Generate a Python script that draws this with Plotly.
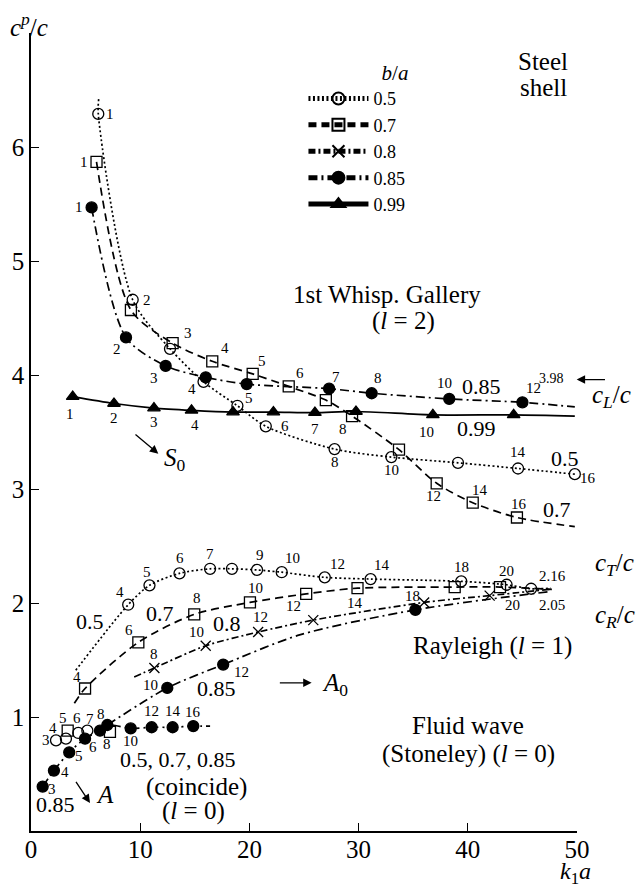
import plotly.graph_objects as go

FONT = "Liberation Serif, Times New Roman, serif"

# ---------------- data ----------------
# l = 2 : 1st whispering gallery
wg05_n = [1, 2, 3, 4, 5, 6, 8, 10, 12, 14, 16]
wg05_x = [6.16, 9.31, 12.73, 15.8, 18.9, 21.5, 27.8, 33.0, 39.1, 44.6, 49.8]
wg05_y = [6.29, 4.66, 4.23, 3.94, 3.73, 3.55, 3.35, 3.28, 3.23, 3.18, 3.13]
wg05_start = (6.2, 6.42)

wg07_n = [1, 2, 3, 4, 5, 6, 7, 8, 10, 12, 14, 16]
wg07_x = [6.0, 9.15, 12.97, 16.6, 20.3, 23.6, 27.0, 29.4, 33.7, 37.15, 40.45, 44.5]
wg07_y = [5.87, 4.57, 4.28, 4.12, 4.01, 3.90, 3.78, 3.64, 3.345, 3.05, 2.88, 2.75]
wg07_end = (49.8, 2.67)

wg085_n = [1, 2, 3, 4, 5, 7, 8, 10, 12]
wg085_x = [5.55, 8.7, 12.33, 16.0, 19.75, 27.3, 31.2, 38.3, 45.0]
wg085_y = [5.47, 4.33, 4.08, 3.98, 3.92, 3.88, 3.84, 3.79, 3.76]
wg085_end = (49.8, 3.72)

wg099_n = [1, 2, 3, 4, 5, 6, 7, 8, 10, 12]
wg099_x = [3.82, 7.6, 11.26, 14.7, 18.5, 22.2, 26.0, 29.76, 36.8, 44.2]
wg099_y = [3.81, 3.75, 3.71, 3.69, 3.675, 3.675, 3.67, 3.68, 3.65, 3.65]
wg099_end = (49.8, 3.64)

# l = 1 : Rayleigh
ry05_n = [4, 5, 6, 7, 8, 9, 10, 12, 14, 18, 20, 22]
ry05_x = [8.9, 10.85, 13.6, 16.4, 18.4, 20.7, 22.96, 26.9, 31.1, 39.4, 43.55, 45.8]
ry05_y = [1.985, 2.155, 2.26, 2.30, 2.30, 2.29, 2.27, 2.225, 2.21, 2.19, 2.16, 2.125]
ry05_start = (4.1, 1.41)
ry05_end = (47.6, 2.13)

ry07_n = [4, 6, 8, 10, 12, 14, 18, 20]
ry07_x = [4.95, 9.83, 14.95, 20.05, 25.2, 29.9, 38.8, 42.95]
ry07_y = [1.25, 1.655, 1.9, 2.005, 2.08, 2.13, 2.14, 2.14]
ry07_start = (3.97, 1.12)
ry07_end = (47.7, 2.12)

ry08_n = [8, 10, 12, 14, 18, 20]
ry08_x = [11.3, 16.0, 20.8, 25.85, 36.0, 42.0]
ry08_y = [1.43, 1.625, 1.745, 1.85, 2.005, 2.065]
ry08_start = (9.45, 1.35)
ry08_end = (47.5, 2.12)

ry085_n = [10, 12, 18]
ry085_x = [12.48, 17.6, 35.2]
ry085_y = [1.255, 1.46, 1.94]
ry085_start = (6.99, 0.93)
ry085_via = [(24.6, 1.72)]
ry085_end = (47.5, 2.10)

# l = 0 : fluid (Stoneley) wave
fl085_n = [3, 4, 5, 6, 7, 8, 10, 12, 14, 16]
fl085_x = [1.07, 2.1, 3.5, 4.95, 6.32, 6.99, 9.13, 11.05, 12.97, 14.86]
fl085_y = [0.39, 0.53, 0.69, 0.81, 0.88, 0.93, 0.90, 0.91, 0.91, 0.92]
fl085_end = (16.4, 0.92)

fl05_n = [3, 4, 6, 7]
fl05_x = [2.29, 3.2, 4.33, 5.16]
fl05_y = [0.795, 0.81, 0.86, 0.88]

fl07_n = [5, 8]
fl07_x = [3.36, 7.23]
fl07_y = [0.88, 0.87]

ratio_names = ["0.5", "0.7", "0.8", "0.85", "0.99"]

# ---------------- styles ----------------
DOT = "2px,2.5px"
DASH = "8px,5px"
DASHDOT8 = "7px,3px,2px,3px"
DASHDOT85 = "9px,4px,2px,4px"
STY = {
    "0.5": dict(symbol="circle-open", dash=DOT, size=11),
    "0.7": dict(symbol="square-open", dash=DASH, size=11),
    "0.8": dict(symbol="x-thin-open", dash=DASHDOT8, size=10),
    "0.85": dict(symbol="circle", dash=DASHDOT85, size=11),
    "0.99": dict(symbol="triangle-up", dash="solid", size=11),
}

# label offsets in pixels (dx right, dy down)
series = [
    dict(r="0.5", n=wg05_n, x=wg05_x, y=wg05_y, start=wg05_start, leg=True,
         lab={1: (12, 0), 2: (14, 0), 4: (-12, 7), 5: (12, -8), 6: (19, 0), 8: (0, 13),
              10: (0, 13), 14: (0, -16), 16: (13, 4)}),
    dict(r="0.7", n=wg07_n, x=wg07_x, y=wg07_y, end=wg07_end, leg=True,
         lab={1: (-13, 0), 3: (15, -10), 4: (13, -13), 5: (9, -13), 6: (11, -13), 8: (-9, 13),
              12: (-3, 13), 14: (7, -13), 16: (2, -14)}),
    dict(r="0.85", n=wg085_n, x=wg085_x, y=wg085_y, end=wg085_end, leg=True,
         lab={1: (-13, 0), 2: (-9, 12), 3: (-12, 12), 7: (7, -12), 8: (6, -15), 10: (-5, -16),
              12: (11, -14)}),
    dict(r="0.99", n=wg099_n, x=wg099_x, y=wg099_y, end=wg099_end, leg=True,
         lab={1: (-3, 17), 2: (0, 14), 3: (0, 14), 4: (3, 15), 7: (0, 16), 10: (-6, 17)}),
    dict(r="0.5", n=ry05_n, x=ry05_x, y=ry05_y, start=ry05_start, end=ry05_end,
         lab={4: (-8, -13), 5: (-2, -13), 6: (0, -15), 7: (0, -15), 9: (3, -15), 10: (11, -14),
              12: (13, -13), 14: (11, -14), 18: (0, -14), 20: (0, -14)}),
    dict(r="0.7", n=ry07_n, x=ry07_x, y=ry07_y, start=ry07_start, end=ry07_end,
         lab={4: (-8, -12), 6: (-9, -12), 8: (3, -16), 10: (6, -14), 12: (-13, 12), 14: (-3, 15)}),
    dict(r="0.8", n=ry08_n, x=ry08_x, y=ry08_y, start=ry08_start, end=ry08_end, leg=True,
         lab={8: (0, -14), 10: (-9, -14), 12: (2, -15), 18: (-12, -6), 20: (23, 9)}),
    dict(r="0.85", n=ry085_n, x=ry085_x, y=ry085_y, start=ry085_start, end=ry085_end,
         via=ry085_via, lab={10: (-17, -3), 12: (18, 7)}),
    dict(r="0.85", n=fl085_n, x=fl085_x, y=fl085_y, end=fl085_end,
         lab={3: (9, 2), 4: (11, 1), 5: (10, 4), 6: (8, 8), 8: (-6, -11), 10: (0, 13),
              12: (0, -16), 14: (0, -16), 16: (0, -14)}),
    dict(r="0.5", n=fl05_n, x=fl05_x, y=fl05_y, noline=True,
         lab={3: (-10, 0), 4: (-13, -11), 6: (-1, -15), 7: (3, -12)}),
    dict(r="0.7", n=fl07_n, x=fl07_x, y=fl07_y, noline=True,
         lab={5: (-5, -13), 8: (-3, 12)}),
]

fig = go.Figure()
annotations = []
rank = {k: i for i, k in enumerate(ratio_names)}

for s in series:
    st = STY[s["r"]]
    pts = [(xx, yy, st["size"]) for xx, yy in zip(s["x"], s["y"])]
    if s.get("via"):
        pts += [(vx, vy, 0) for vx, vy in s["via"]]
        pts.sort(key=lambda p: p[0])
    if s.get("start"):
        pts = [(s["start"][0], s["start"][1], 0)] + pts
    if s.get("end"):
        pts = pts + [(s["end"][0], s["end"][1], 0)]
    fig.add_trace(go.Scatter(
        x=[p[0] for p in pts], y=[p[1] for p in pts],
        mode="markers" if s.get("noline") else "lines+markers",
        line=dict(color="black", width=1.7, dash=st["dash"], shape="spline", smoothing=0.8),
        marker=dict(symbol=st["symbol"], size=[p[2] for p in pts], color="black", opacity=1,
                    line=dict(color="black", width=1.3)),
        name=s["r"], legendgroup=s["r"], showlegend=bool(s.get("leg")),
        legendrank=rank[s["r"]] + 1, cliponaxis=False, hoverinfo="skip",
    ))
    for nn, xx, yy in zip(s["n"], s["x"], s["y"]):
        if nn in s["lab"]:
            dx, dy = s["lab"][nn]
            annotations.append(dict(x=xx, y=yy, xref="x", yref="y", text=str(nn),
                                    showarrow=False, xshift=dx, yshift=-dy,
                                    font=dict(family=FONT, size=15, color="black")))


def txt(x, y, t, size=25, xa="center", ya="middle", ref="x"):
    annotations.append(dict(x=x, y=y, xref="x" if ref == "x" else "paper",
                            yref="y" if ref == "x" else "paper", text=t, showarrow=False,
                            xanchor=xa, yanchor=ya,
                            font=dict(family=FONT, size=size, color="black")))


def arrow(x0, y0, x1, y1):
    annotations.append(dict(x=x1, y=y1, ax=x0, ay=y0, xref="x", yref="y", axref="x", ayref="y",
                            text="", showarrow=True, arrowhead=2, arrowsize=1.3,
                            arrowwidth=1.3, arrowcolor="black", standoff=0))


txt(46.9, 6.75, "Steel", 25)
txt(46.9, 6.52, "shell", 25)
txt(32.6, 4.705, "1st Whisp. Gallery", 25)
txt(34.07, 4.47, "(<i>l</i> = 2)", 25)
txt(41.27, 3.90, "0.85", 22)
txt(40.8, 3.535, "0.99", 22)
txt(48.9, 3.27, "0.5", 22)
txt(48.14, 2.82, "0.7", 22)
txt(47.68, 3.97, "3.98", 14)
txt(47.74, 2.24, "2.16", 15)
txt(47.68, 1.985, "2.05", 15)
txt(1.024, 0.544, "<i>c</i><sub><i>L</i></sub>/<i>c</i>", 25, xa="left", ref="paper")
txt(1.029, 0.334, "<i>c</i><sub><i>T</i></sub>/<i>c</i>", 25, xa="left", ref="paper")
txt(1.029, 0.269, "<i>c</i><sub><i>R</i></sub>/<i>c</i>", 25, xa="left", ref="paper")
arrow(52.7, 3.96, 49.97, 3.96)
arrow(52.84, 2.167, 50.03, 2.167)
arrow(52.84, 2.058, 50.03, 2.058)
txt(42.28, 1.625, "Rayleigh (<i>l</i> = 1)", 25)
txt(5.4, 1.84, "0.5", 22)
txt(11.81, 1.91, "0.7", 22)
txt(17.92, 1.82, "0.8", 22)
txt(17.0, 1.254, "0.85", 22)
arrow(22.65, 1.30, 25.7, 1.30)
txt(26.5, 1.283, "<i>A</i><sub>0</sub>", 25, xa="left")
txt(40.05, 0.924, "Fluid wave", 25)
txt(40.05, 0.675, "(Stoneley) (<i>l</i> = 0)", 25)
txt(13.49, 0.625, "0.5, 0.7, 0.85", 22)
txt(15.17, 0.39, "(coincide)", 25)
txt(14.86, 0.172, "(<i>l</i> = 0)", 25)
txt(2.2, 0.23, "0.85", 22)
arrow(4.03, 0.444, 5.4, 0.246)
txt(6.78, 0.32, "<i>A</i>", 25)
arrow(9.43, 3.49, 11.66, 3.31)
txt(13.19, 3.26, "<i>S</i><sub>0</sub>", 25)
txt(-0.042, 1.0104, "<i>c</i><sup><i>p</i></sup>/<i>c</i>", 25, xa="left", ref="paper")
txt(0.965, -0.0735, "<i>k</i><sub>1</sub><i>a</i>", 24, xa="left", ya="bottom", ref="paper")

axis_common = dict(showgrid=False, zeroline=False, showline=True, linecolor="black",
                   linewidth=1.5, ticks="inside", ticklen=8, tickwidth=1.3, tickcolor="black",
                   automargin=False,
                   tickfont=dict(family=FONT, size=25, color="black"))

fig.update_layout(
    width=636, height=890,
    margin=dict(l=31, r=59, t=33, b=59),
    paper_bgcolor="white", plot_bgcolor="white",
    xaxis=dict(range=[0, 50], tickvals=[0, 10, 20, 30, 40, 50], ticklabelstandoff=-5,
               **axis_common),
    yaxis=dict(range=[0, 7], tickvals=[1, 2, 3, 4, 5, 6], **axis_common),
    annotations=annotations,
    showlegend=True,
    legend=dict(x=0.499, y=0.975, xanchor="left", yanchor="top",
                font=dict(family=FONT, size=18, color="black"),
                title=dict(text="<i>b</i>/<i>a</i>", side="top right",
                           font=dict(family=FONT, size=21, color="black")),
                bgcolor="rgba(0,0,0,0)", itemsizing="constant", itemwidth=60,
                tracegroupgap=0, traceorder="normal"),
)

fig.write_html("out.html")
